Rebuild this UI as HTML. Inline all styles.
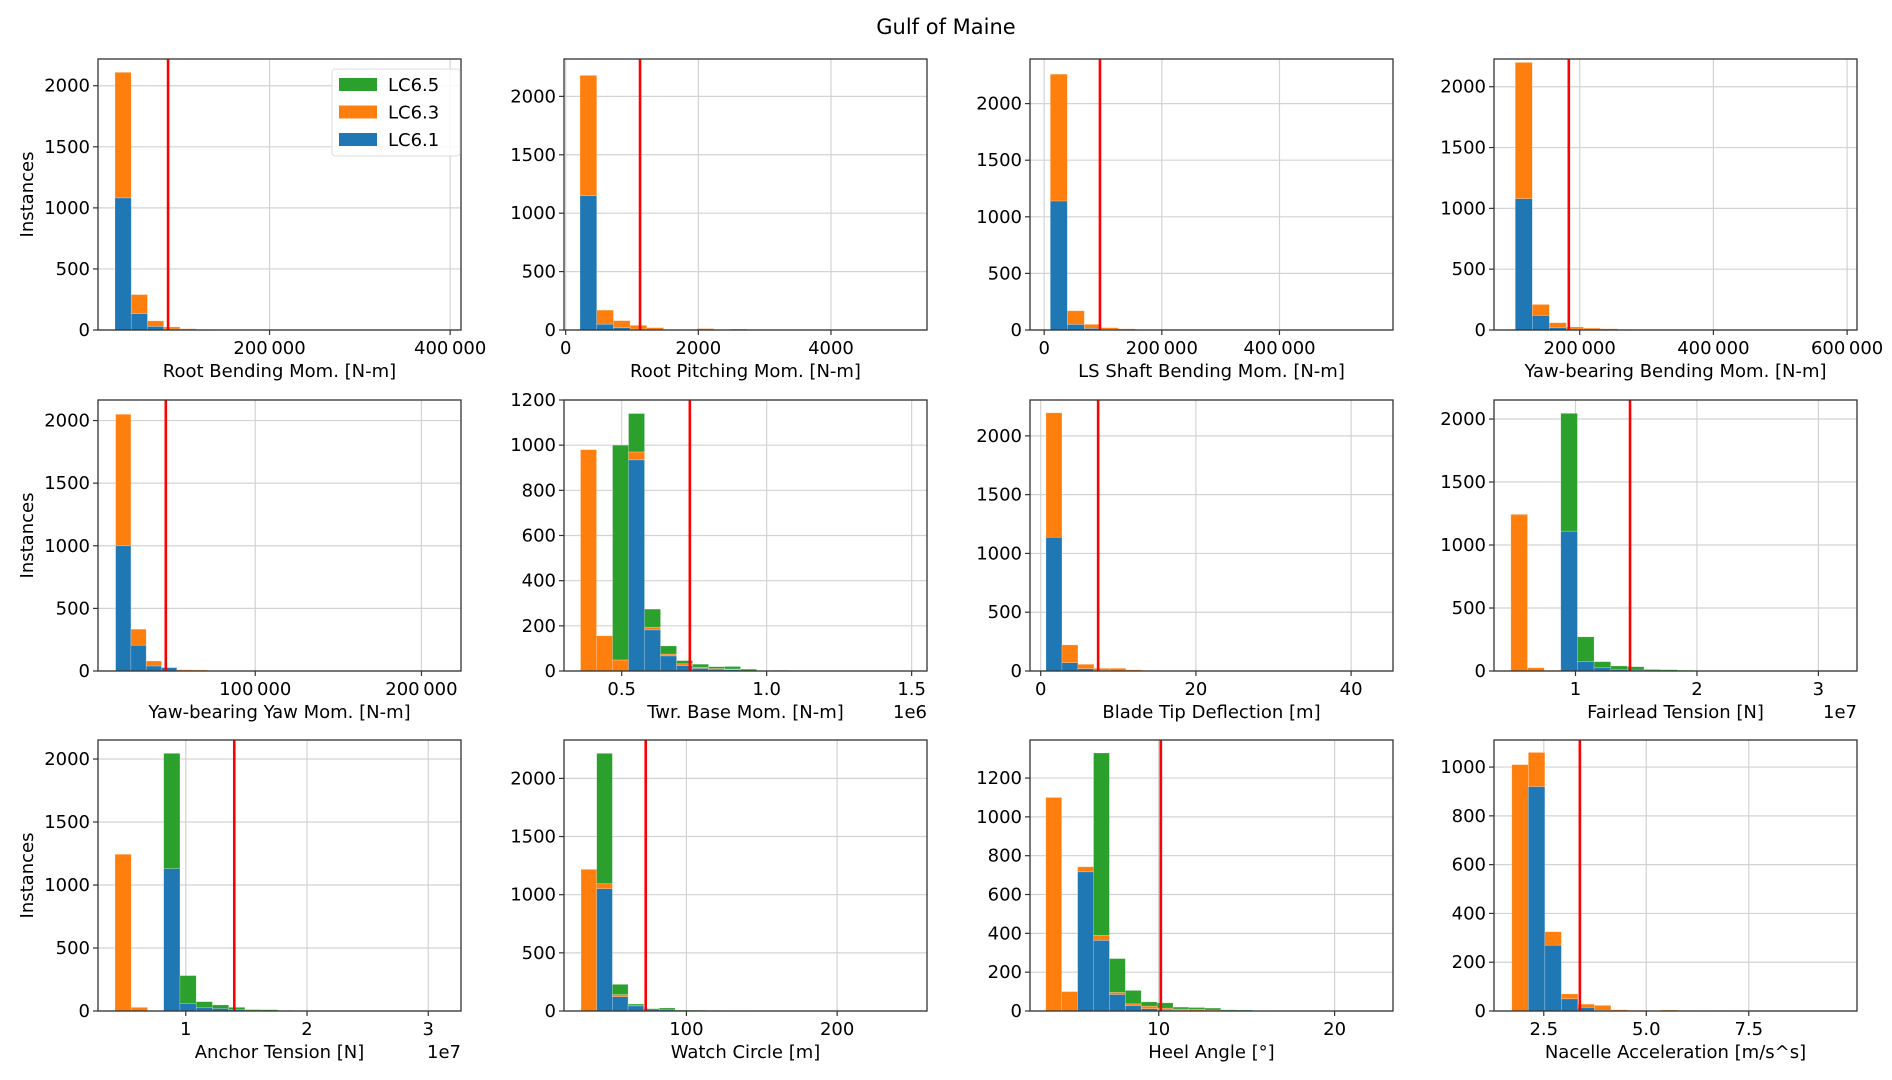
<!DOCTYPE html>
<html>
<head>
<meta charset="utf-8">
<style>
html,body{margin:0;padding:0;background:#fff;}
svg{display:block;font-family:"DejaVu Sans","Liberation Sans",sans-serif;}
</style>
</head>
<body>
<svg id="fig" width="1892" height="1080" viewBox="0 0 1892 1080">
<text x="946" y="34" text-anchor="middle" font-size="21" fill="#000">Gulf of Maine</text>
</svg>
<script>
// ---- data: stacked segment counts per bin (LC6.1 blue, LC6.3 orange, LC6.5 green) ----
const p1Blue=[1082,134,30,8,3,2,0];
const p1Orange=[1028,156,45,17,7,3,1];
const p1Green=[0,0,0,0,0,0,0];
const p2Blue=[1150,50,20,8,3,0,0,0,0,0];
const p2Orange=[1030,120,60,32,17,5,3,12,3,8];
const p2Green=[0,0,0,0,0,0,0,0,0,0];
const p3Blue=[1140,50,15,5,2,1,0];
const p3Orange=[1120,120,35,15,8,4,2];
const p3Green=[0,0,0,0,0,0,0];
const p4Blue=[1080,120,20,8,3,1,0,0];
const p4Orange=[1120,90,40,17,12,9,5,2];
const p4Green=[0,0,0,0,0,0,0,0];
const p5Blue=[1000,206,40,26,3,2,1,0];
const p5Orange=[1050,128,40,4,7,6,3,1];
const p5Green=[0,0,0,0,0,0,0,0];
const p6Blue=[0,0,0,935,182,67,24,12,8,6,0,0,3,0];
const p6Orange=[980,156,49,35,12,8,8,5,3,3,0,0,0,0];
const p6Green=[0,0,951,170,80,36,14,13,8,11,8,0,0,2];
const p7Blue=[1138,71,20,5,2,1,0];
const p7Orange=[1058,151,37,18,21,9,5];
const p7Green=[0,0,0,0,0,0,0];
const p8Blue=[0,0,0,1110,74,26,13,8,3,2,1,0,0,0,0,0,0,0,0,0];
const p8Orange=[1243,26,5,0,0,0,0,0,0,0,0,0,0,0,0,0,0,0,0,0];
const p8Green=[0,0,0,935,197,48,27,26,9,8,5,4,3,2,2,1,1,1,1,1];
const p9Blue=[0,0,0,1130,60,29,20,10,3,2,1,0,0,0,0,0,0,0,0,0];
const p9Orange=[1244,29,3,0,0,0,0,0,0,0,0,0,0,0,0,0,0,0,0,0];
const p9Green=[0,0,0,915,221,45,28,19,8,8,4,3,2,2,1,1,1,1,1,1];
const p10Blue=[0,1052,123,44,17,10,3,2,1,1,1,0,0];
const p10Orange=[1218,43,18,2,0,0,0,0,0,0,0,0,0];
const p10Green=[0,1120,88,14,3,16,5,5,4,2,2,1,1];
const p11Blue=[0,0,717,364,85,28,12,5,3,1,1,0,0,0,0,0];
const p11Orange=[1100,100,26,26,11,9,13,10,7,8,4,2,1,0,0,0];
const p11Green=[0,0,0,939,174,69,22,27,10,9,10,4,4,2,1,1];
const p12Blue=[0,920,270,50,15,3,1,1,0,0,0,0,0,0];
const p12Orange=[1010,140,55,20,13,20,4,2,0,4,0,2,0,2];
const p12Green=[0,0,0,0,0,0,0,0,0,0,0,0,0,0];
// bin starts / widths and design-load (red) lines, in data units
const binStarts=[28800,216,10400,103600,16000,0.358,0.68,0.468,0.416,30.1,3.58,1.72];
const binWidths=[18000,252,28900,25500,9200,0.0552,2.06,0.137,0.134,10.4,0.904,0.403];
const redLines=[87600,1121,94800,183700,46200,0.735,7.4,1.449,1.40,73,10.12,3.38];
// axis ranges
const xMins=[10000,-25.6,-24100,71800,5400,0.301,-1.38,0.329,0.276,18.8,2.68,1.286];
const xMaxs=[412000,5448,593000,614800,223800,1.553,45.4,3.318,3.27,259.6,23.32,10.14];
const yMaxs=[2219,2320,2394,2228,2164,1200,2305,2151,2151,2330,1396,1111];
// tick values & labels
const xTickVals=[[200000,400000],[0,2000,4000],[0,200000,400000],[200000,400000,600000],[100000,200000],[0.5,1.0,1.5],[0,20,40],[1,2,3],[1,2,3],[100,200],[10,20],[2.5,5.0,7.5]];
const xTickLabels=[["200\u2009000","400\u2009000"],["0","2000","4000"],["0","200\u2009000","400\u2009000"],["200\u2009000","400\u2009000","600\u2009000"],["100\u2009000","200\u2009000"],["0.5","1.0","1.5"],["0","20","40"],["1","2","3"],["1","2","3"],["100","200"],["10","20"],["2.5","5.0","7.5"]];
const yTicks2000=[0,500,1000,1500,2000];
const yTicks1200=[0,200,400,600,800,1000,1200];
const yTicks1000=[0,200,400,600,800,1000];
const yTickSets=[yTicks2000,yTicks2000,yTicks2000,yTicks2000,yTicks2000,yTicks1200,yTicks2000,yTicks2000,yTicks2000,yTicks2000,yTicks1200,yTicks1000];
const xLabels=["Root Bending Mom. [N-m]","Root Pitching Mom. [N-m]","LS Shaft Bending Mom. [N-m]","Yaw-bearing Bending Mom. [N-m]","Yaw-bearing Yaw Mom. [N-m]","Twr. Base Mom. [N-m]","Blade Tip Deflection [m]","Fairlead Tension [N]","Anchor Tension [N]","Watch Circle [m]","Heel Angle [°]","Nacelle Acceleration [m/s^s]"];
const offsetTexts=["","","","","","1e6","","1e7","1e7","","",""];
const blues=[p1Blue,p2Blue,p3Blue,p4Blue,p5Blue,p6Blue,p7Blue,p8Blue,p9Blue,p10Blue,p11Blue,p12Blue];
const oranges=[p1Orange,p2Orange,p3Orange,p4Orange,p5Orange,p6Orange,p7Orange,p8Orange,p9Orange,p10Orange,p11Orange,p12Orange];
const greens=[p1Green,p2Green,p3Green,p4Green,p5Green,p6Green,p7Green,p8Green,p9Green,p10Green,p11Green,p12Green];

const NS="http://www.w3.org/2000/svg";
const svg=document.getElementById('fig');
const colLefts=[98,564,1030,1494];
const rowTops=[59,400,740];
const W=363,H=271;
const C_BLUE="#1f77b4",C_ORANGE="#ff7f0e",C_GREEN="#2ca02c";

function mk(tag,attrs,parent){
  const el=document.createElementNS(NS,tag);
  for(const k in attrs) el.setAttribute(k,attrs[k]);
  (parent||svg).appendChild(el);
  return el;
}

for(let p=0;p<12;p++){
  const L=colLefts[p%4], T=rowTops[Math.floor(p/4)], B=T+H, R=L+W;
  const x0=xMins[p], x1=xMaxs[p], ym=yMaxs[p];
  const sx=v=>L+(v-x0)/(x1-x0)*W;
  const sy=c=>B-c/ym*H;
  const g=mk('g',{});
  
  
  const clipId='clip'+p;
  const cp=mk('clipPath',{id:clipId},g);
  mk('rect',{x:L,y:T,width:W,height:H},cp);
  xTickVals[p].forEach(v=>{
    const ln=mk('line',{x1:sx(v),x2:sx(v),y1:T,y2:B,stroke:"#d3d3d3","stroke-width":1.2},g);
    
    
  });
  yTickSets[p].forEach(v=>{
    const ln=mk('line',{x1:L,x2:R,y1:sy(v),y2:sy(v),stroke:"#d3d3d3","stroke-width":1.2},g);
    
    
  });
  const bg=mk('g',{'clip-path':'url(#'+clipId+')'},g);
  const nb=Math.max(blues[p].length,oranges[p].length,greens[p].length);
  for(let i=0;i<nb;i++){
    const a=binStarts[p]+i*binWidths[p], b=a+binWidths[p];
    const segs=[[blues[p][i]||0,C_BLUE,'lc61'],[oranges[p][i]||0,C_ORANGE,'lc63'],[greens[p][i]||0,C_GREEN,'lc65']];
    let base=0;
    segs.forEach(s=>{
      if(s[0]>0){
        const r=mk('rect',{x:sx(a),y:sy(base+s[0]),width:sx(b)-sx(a),height:sy(base)-sy(base+s[0]),fill:s[1],stroke:"#ffffff","stroke-opacity":0.35,"stroke-width":0.6},bg);
        
        
      }
      base+=s[0];
    });
  }
  const rl=mk('line',{x1:sx(redLines[p]),x2:sx(redLines[p]),y1:T,y2:B,stroke:"#ff0000","stroke-width":2.6},g);
  
  
  const sp=mk('rect',{x:L,y:T,width:W,height:H,fill:"none",stroke:"#333","stroke-width":1.3},g);
  
  
  xTickVals[p].forEach((v,k)=>{
    mk('line',{x1:sx(v),x2:sx(v),y1:B,y2:B+5,stroke:"#333","stroke-width":1.2},g);
    const t=mk('text',{x:sx(v),y:B+24,'text-anchor':'middle','font-size':18,fill:"#000"},g);
    t.textContent=xTickLabels[p][k];
    
    
  });
  yTickSets[p].forEach(v=>{
    mk('line',{x1:L-5,x2:L,y1:sy(v),y2:sy(v),stroke:"#333","stroke-width":1.2},g);
    const t=mk('text',{x:L-8,y:sy(v)+6,'text-anchor':'end','font-size':18,fill:"#000"},g);
    t.textContent=String(v);
    
    
  });
  const xl=mk('text',{x:(L+R)/2,y:B+47,'text-anchor':'middle','font-size':18,fill:"#000"},g);
  xl.textContent=xLabels[p];
  
  
  if(offsetTexts[p]){
    const ot=mk('text',{x:R,y:B+47,'text-anchor':'end','font-size':18,fill:"#000"},g);
    ot.textContent=offsetTexts[p];
    
    
  }
  if(p%4===0){
    const yl=mk('text',{x:0,y:0,'text-anchor':'middle','font-size':18,fill:"#000",transform:'translate(33,'+((T+B)/2)+') rotate(-90)'},g);
    yl.textContent="Instances";
    
    
  }
}

const legendNames=["LC6.5","LC6.3","LC6.1"];
const legendColors=[C_GREEN,C_ORANGE,C_BLUE];
const lg=mk('g',{});


const lbox=mk('rect',{x:332,y:69,width:128,height:87,rx:3,fill:"#fff","fill-opacity":0.85,stroke:"#ddd","stroke-width":1},lg);


legendNames.forEach((n,i)=>{
  const cy=84.5+i*27.5;
  const sw=mk('rect',{x:339,y:cy-6.5,width:38,height:13,fill:legendColors[i]},lg);
  
  
  const t=mk('text',{x:388,y:cy+6.5,'font-size':18,fill:"#000"},lg);
  t.textContent=n;
  
  
});
</script>
</body>
</html>
